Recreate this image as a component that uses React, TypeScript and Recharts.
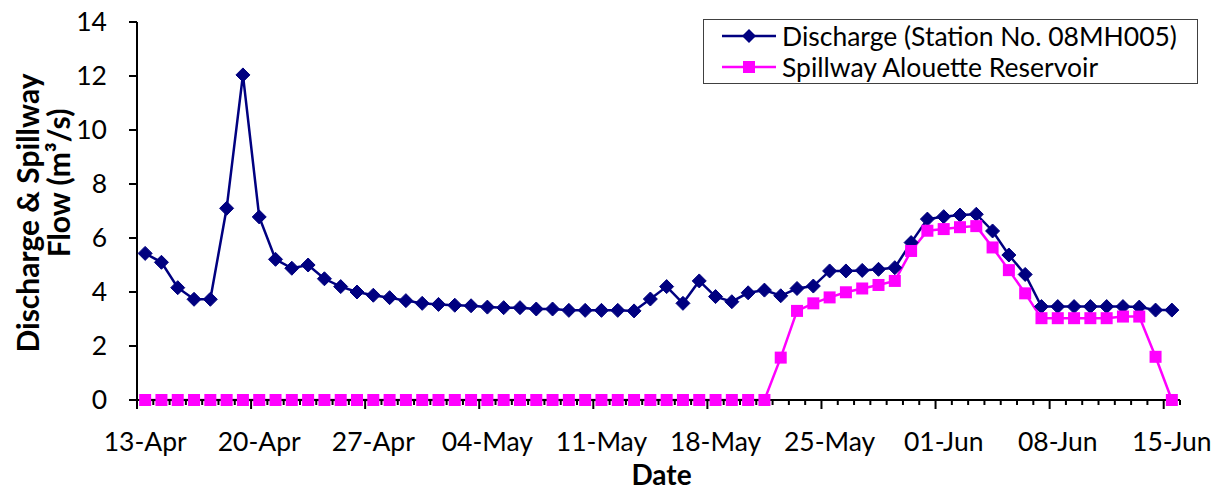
import { LineChart, Line, XAxis, YAxis, Legend } from "recharts";

// daily dates, 13-Apr .. 15-Jun
const dates = [
  "13-Apr", "14-Apr", "15-Apr", "16-Apr", "17-Apr", "18-Apr", "19-Apr",
  "20-Apr", "21-Apr", "22-Apr", "23-Apr", "24-Apr", "25-Apr", "26-Apr",
  "27-Apr", "28-Apr", "29-Apr", "30-Apr", "01-May", "02-May", "03-May",
  "04-May", "05-May", "06-May", "07-May", "08-May", "09-May", "10-May",
  "11-May", "12-May", "13-May", "14-May", "15-May", "16-May", "17-May",
  "18-May", "19-May", "20-May", "21-May", "22-May", "23-May", "24-May",
  "25-May", "26-May", "27-May", "28-May", "29-May", "30-May", "31-May",
  "01-Jun", "02-Jun", "03-Jun", "04-Jun", "05-Jun", "06-Jun", "07-Jun",
  "08-Jun", "09-Jun", "10-Jun", "11-Jun", "12-Jun", "13-Jun", "14-Jun",
  "15-Jun",
];

// Discharge (Station No. 08MH005), m3/s
const discharge = [
  5.43, 5.1, 4.16, 3.73, 3.73, 7.1, 12.04,
  6.78, 5.21, 4.88, 5.0, 4.49, 4.2, 4.0,
  3.88, 3.79, 3.68, 3.58, 3.54, 3.51, 3.49,
  3.44, 3.42, 3.42, 3.37, 3.37, 3.32, 3.32,
  3.32, 3.32, 3.3, 3.74, 4.2, 3.58, 4.41,
  3.83, 3.64, 3.97, 4.07, 3.86, 4.13, 4.22,
  4.78, 4.78, 4.8, 4.84, 4.9, 5.83, 6.7,
  6.79, 6.85, 6.88, 6.26, 5.37, 4.65, 3.46,
  3.46, 3.46, 3.46, 3.46, 3.46, 3.44, 3.33,
  3.33,
];

// Spillway Alouette Reservoir, m3/s
const spillway = [
  0, 0, 0, 0, 0, 0, 0,
  0, 0, 0, 0, 0, 0, 0,
  0, 0, 0, 0, 0, 0, 0,
  0, 0, 0, 0, 0, 0, 0,
  0, 0, 0, 0, 0, 0, 0,
  0, 0, 0, 0, 1.57, 3.3, 3.58,
  3.8, 3.99, 4.13, 4.26, 4.41, 5.52, 6.27,
  6.33, 6.4, 6.44, 5.65, 4.81, 3.95, 3.03,
  3.03, 3.03, 3.03, 3.03, 3.09, 3.09, 1.6,
  0,
];

const dateLabels = [
  "13-Apr", "20-Apr", "27-Apr", "04-May", "11-May",
  "18-May", "25-May", "01-Jun", "08-Jun", "15-Jun",
];
const yTicks = [0, 2, 4, 6, 8, 10, 12, 14];

const NAVY = "#000080";
const MAGENTA = "#FF00FF";
const FONT = "Lato, 'Open Sans', sans-serif";

const data = dates.map((d, i) => ({
  idx: i,
  date: d,
  discharge: discharge[i],
  spillway: spillway[i],
}));

// tick marks sit between days, labels sit on the day itself
const labelIdx = dateLabels.map((t) => dates.indexOf(t));
const bounds = dates.map((_, i) => i - 0.5).concat(dates.length - 0.5);
const xTicks = [...bounds, ...labelIdx].sort((a, b) => a - b);

function DateTick(props: any) {
  const { x, y, payload } = props;
  const v = payload.value as number;
  if (Number.isInteger(v)) {
    return (
      <text
        x={x}
        y={y + 41}
        textAnchor="middle"
        dominantBaseline="central"
        fontFamily={FONT}
        fontSize={26.5}
        fill="#000"
      >
        {dates[v]}
      </text>
    );
  }
  const major = (v + 0.5) % 7 === 0;
  return (
    <line x1={x} x2={x} y1={y} y2={y + (major ? 9 : 5)} stroke="#000" strokeWidth={2} />
  );
}

function Diamond(props: any) {
  const { cx, cy, index } = props;
  const r = 7;
  return (
    <polygon
      key={`d-${index}`}
      points={`${cx},${cy - r} ${cx + r},${cy} ${cx},${cy + r} ${cx - r},${cy}`}
      fill={NAVY}
      stroke={NAVY}
    />
  );
}

function Square(props: any) {
  const { cx, cy, index } = props;
  const s = 12;
  return (
    <rect key={`s-${index}`} x={cx - s / 2} y={cy - s / 2} width={s} height={s} fill={MAGENTA} />
  );
}

function YTitle(props: any) {
  const cy = props.viewBox ? props.viewBox.y + props.viewBox.height / 2 : 211;
  return (
    <g fontFamily={FONT} fontWeight={700} fontSize={30} fill="#000">
      <text
        x={27}
        y={cy + 2}
        transform={`rotate(-90, 27, ${cy + 2})`}
        textAnchor="middle"
        dominantBaseline="central"
      >
        Discharge &amp; Spillway
      </text>
      <text
        x={58}
        y={cy - 28}
        transform={`rotate(-90, 58, ${cy - 28})`}
        textAnchor="middle"
        dominantBaseline="central"
      >
        Flow (m³/s)
      </text>
    </g>
  );
}

function XTitle(props: any) {
  const vb = props.viewBox || { x: 137, y: 400, width: 1043 };
  return (
    <text
      x={vb.x + vb.width / 2 + 3}
      y={vb.y + 85}
      textAnchor="middle"
      fontFamily={FONT}
      fontWeight={700}
      fontSize={28}
      fill="#000"
    >
      Date
    </text>
  );
}

const legendItems = [
  { name: "Discharge (Station No. 08MH005)", color: NAVY, shape: "diamond" },
  { name: "Spillway Alouette Reservoir", color: MAGENTA, shape: "square" },
];

function LegendBox() {
  return (
    <div
      style={{
        boxSizing: "border-box",
        width: 495,
        height: 65,
        border: "1.5px solid #404040",
        background: "#fff",
        fontFamily: FONT,
        fontSize: 26.5,
        color: "#000",
        paddingLeft: 18,
        display: "flex",
        flexDirection: "column",
        justifyContent: "center",
      }}
    >
      {legendItems.map((it) => (
        <div key={it.name} style={{ display: "flex", alignItems: "center", height: 31 }}>
          <svg width={54} height={20} style={{ flex: "none" }}>
            <line x1={0} x2={54} y1={10} y2={10} stroke={it.color} strokeWidth={2.5} />
            {it.shape === "diamond" ? (
              <polygon points="27,3 34,10 27,17 20,10" fill={it.color} />
            ) : (
              <rect x={21} y={4} width={12} height={12} fill={it.color} />
            )}
          </svg>
          <span style={{ marginLeft: 6, whiteSpace: "nowrap", lineHeight: "31px" }}>{it.name}</span>
        </div>
      ))}
    </div>
  );
}

export default function App() {
  return (
    <div style={{ position: "absolute", left: 0, top: 0, width: 1216, height: 492, background: "#fff" }}>
      <LineChart
        width={1216}
        height={492}
        data={data}
        margin={{ top: 22, right: 36, bottom: 0, left: 0 }}
      >
        <XAxis
          dataKey="idx"
          type="number"
          domain={[-0.5, dates.length - 0.5]}
          ticks={xTicks}
          interval={0}
          height={92}
          tickLine={false}
          tickSize={0}
          tickMargin={0}
          tick={<DateTick />}
          axisLine={{ stroke: "#000", strokeWidth: 2 }}
          label={<XTitle />}
        />
        <YAxis
          domain={[0, 14]}
          ticks={yTicks}
          interval={0}
          width={137}
          tickSize={8}
          tickMargin={22}
          tick={{ fontFamily: FONT, fontSize: 26.5, fill: "#000" }}
          tickLine={{ stroke: "#000", strokeWidth: 2 }}
          axisLine={{ stroke: "#000", strokeWidth: 2 }}
          label={<YTitle />}
        />
        <Legend
          layout="vertical"
          align="center"
          verticalAlign="middle"
          content={<LegendBox />}
          wrapperStyle={{ left: 703, top: 19, width: 495, height: 65 }}
        />
        <Line
          type="linear"
          dataKey="discharge"
          name="Discharge (Station No. 08MH005)"
          stroke={NAVY}
          strokeWidth={2.5}
          dot={Diamond}
          activeDot={false}
          isAnimationActive={false}
        />
        <Line
          type="linear"
          dataKey="spillway"
          name="Spillway Alouette Reservoir"
          stroke={MAGENTA}
          strokeWidth={2.5}
          dot={Square}
          activeDot={false}
          isAnimationActive={false}
        />
      </LineChart>
    </div>
  );
}
